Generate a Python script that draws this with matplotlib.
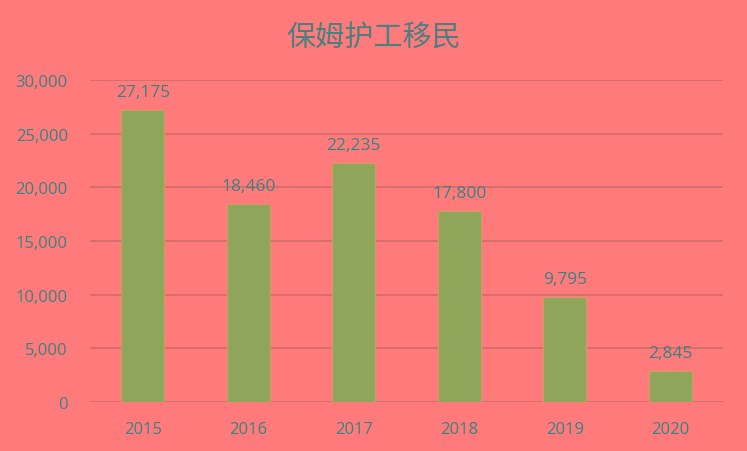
import matplotlib
matplotlib.use("Agg")
import matplotlib.pyplot as plt

years = ["2015", "2016", "2017", "2018", "2019", "2020"]
values = [27175, 18460, 22235, 17800, 9795, 2845]
yticks = [0, 5000, 10000, 15000, 20000, 25000, 30000]
title = "保姆护工移民"

bg = "#FF7B7B"
txt = "#3A8282"
grid = "#CF6C6C"
bar_c = "#8FA65A"

plt.rcParams['font.family'] = ['Noto Sans CJK SC', 'DejaVu Sans']

fig = plt.figure(figsize=(7.47, 4.52), dpi=100, facecolor=bg)
ax = fig.add_axes([0.1205, 0.1084, 0.8475, 0.7124], facecolor=bg)

x = list(range(len(years)))
ax.bar(x, values, width=0.41, color=bar_c, edgecolor="#C9A060", linewidth=0.8, zorder=3)
for xi, v in zip(x, values):
    ax.text(xi, v + 950, f"{v:,}", ha="center", va="bottom", color=txt, fontsize=12.5,
            family=['Open Sans', 'DejaVu Sans'])

ax.set_xlim(-0.5, len(years) - 0.5)
ax.set_ylim(0, 30000)
ax.set_yticks(yticks)
ax.set_yticklabels([f"{t:,}" for t in yticks], color=txt, fontsize=12,
                   family=['Open Sans', 'DejaVu Sans'])
ax.set_xticks(x)
ax.set_xticklabels(years, color=txt, fontsize=12, family=['Open Sans', 'DejaVu Sans'])
ax.tick_params(axis='both', length=0)
ax.tick_params(axis='y', pad=16)
ax.tick_params(axis='x', pad=14)
ax.yaxis.grid(True, color=grid, linewidth=1.2, zorder=0)
for s in ax.spines.values():
    s.set_visible(False)

fig.text(0.5, 0.915, title, ha="center", va="center", color="#4A8080", fontsize=21,
         family=['Noto Sans CJK SC'], fontweight='light')

fig.savefig("out.png", dpi=100, facecolor=bg)
